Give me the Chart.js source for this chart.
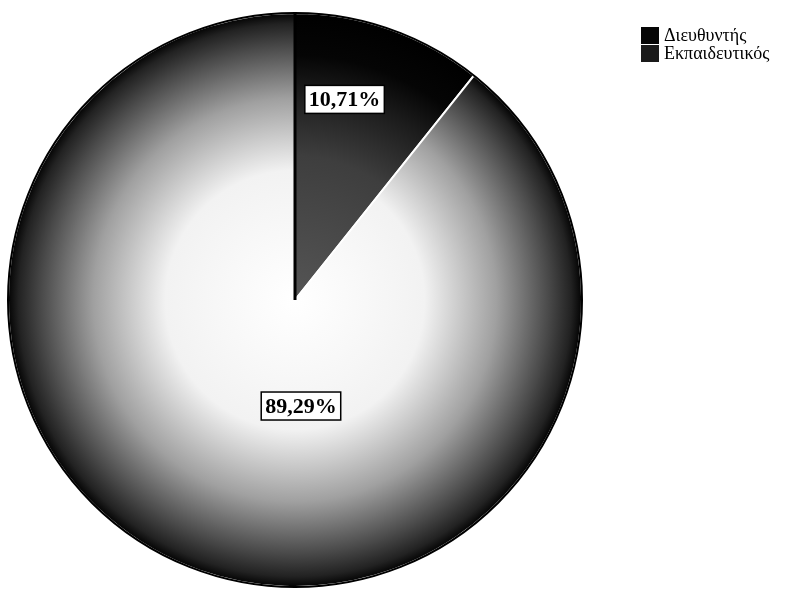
<!DOCTYPE html>
<html>
<head>
<meta charset="utf-8">
<script src="https://cdn.jsdelivr.net/npm/chart.js@4.4.1/dist/chart.umd.min.js"></script>
<style>
    body { margin: 0; background: #fff; }
    #wrap { position: relative; width: 808px; height: 591px; }
    #legend { position: absolute; left: 641px; top: 26px; font-family: 'Liberation Serif', 'Times New Roman', serif; font-size: 18px; color: #000; }
    .item { display: flex; align-items: center; height: 18px; }
    .box { width: 18px; height: 17px; margin-right: 5px; }
</style>
</head>
<body>
<div id="wrap">
    <canvas id="pie" width="808" height="591"></canvas>
    <div id="legend"></div>
</div>
<script>
// Data
const categories = ['Διευθυντής', 'Εκπαιδευτικός'];
const percentages = [10.71, 89.29];
const labelTexts = ['10,71%', '89,29%'];
const legendColors = ['#050505', '#1a1a1a'];

// label placement per slice: [angle offset inside slice (0..1), radius fraction]
const labelPlacement = [[0.36, 0.72], [0.43, 0.37]];

function sliceFill(ctx) {
    const chart = ctx.chart;
    const area = chart.chartArea;
    if (!area) return '#000';
    const cx = (area.left + area.right) / 2;
    const cy = (area.top + area.bottom) / 2;
    const r = Math.min(area.right - area.left, area.bottom - area.top) / 2;
    const g = chart.ctx.createRadialGradient(cx, cy, 0, cx, cy, r);
    if (ctx.dataIndex === 0) {
        g.addColorStop(0, '#555555');
        g.addColorStop(0.5, '#3e3e3e');
        g.addColorStop(0.72, '#1c1c1c');
        g.addColorStop(0.85, '#050505');
        g.addColorStop(1, '#000000');
    } else {
        g.addColorStop(0, '#ffffff');
        g.addColorStop(0.45, '#f2f2f2');
        g.addColorStop(0.7, '#a0a0a0');
        g.addColorStop(0.88, '#4a4a4a');
        g.addColorStop(0.96, '#222222');
        g.addColorStop(1, '#000000');
    }
    return g;
}

// Boxed percentage labels
const boxLabels = {
    id: 'boxLabels',
    afterDatasetsDraw(chart) {
        const ctx = chart.ctx;
        const meta = chart.getDatasetMeta(0);
        ctx.save();
        ctx.font = 'bold 22px "Liberation Serif", serif';
        ctx.textAlign = 'center';
        ctx.textBaseline = 'middle';
        meta.data.forEach((arc, i) => {
            const p = arc.getProps(['x', 'y', 'startAngle', 'endAngle', 'outerRadius']);
            const ang = p.startAngle + (p.endAngle - p.startAngle) * labelPlacement[i][0];
            const rad = p.outerRadius * labelPlacement[i][1];
            const x = p.x + Math.cos(ang) * rad;
            const y = p.y + Math.sin(ang) * rad;
            const w = ctx.measureText(labelTexts[i]).width + 8;
            const h = 28;
            ctx.fillStyle = '#fff';
            ctx.fillRect(x - w / 2, y - h / 2, w, h);
            ctx.strokeStyle = '#000';
            ctx.lineWidth = 1.5;
            ctx.strokeRect(x - w / 2, y - h / 2, w, h);
            ctx.fillStyle = '#000';
            ctx.fillText(labelTexts[i], x, y + 1);
        });
        ctx.restore();
    }
};

// black outline round the pie and along the first radius
const outline = {
    id: 'outline',
    afterDatasetsDraw(chart) {
        const arc = chart.getDatasetMeta(0).data[0];
        const ctx = chart.ctx;
        ctx.save();
        ctx.beginPath();
        ctx.arc(arc.x, arc.y, arc.outerRadius, 0, Math.PI * 2);
        ctx.strokeStyle = '#000';
        ctx.lineWidth = 2;
        ctx.stroke();
        ctx.beginPath();
        ctx.moveTo(arc.x, arc.y);
        ctx.lineTo(arc.x, arc.y - arc.outerRadius);
        ctx.lineWidth = 3;
        ctx.stroke();
        ctx.restore();
    }
};

new Chart(document.getElementById('pie'), {
    type: 'pie',
    data: {
        labels: categories,
        datasets: [{
            data: percentages,
            backgroundColor: sliceFill,
            borderColor: '#ffffff',
            borderWidth: 2
        }]
    },
    options: {
        responsive: false,
        animation: false,
        layout: { padding: { left: 7, right: 225, top: 10, bottom: 1 } },
        plugins: {
            legend: { display: false },
            tooltip: { enabled: false }
        }
    },
    plugins: [outline, boxLabels]
});

// HTML legend
const legend = document.getElementById('legend');
categories.forEach((c, i) => {
    const row = document.createElement('div');
    row.className = 'item';
    row.innerHTML = '<span class="box" style="background:' + legendColors[i] + '"></span><span>' + c + '</span>';
    legend.appendChild(row);
});
</script>
</body>
</html>
